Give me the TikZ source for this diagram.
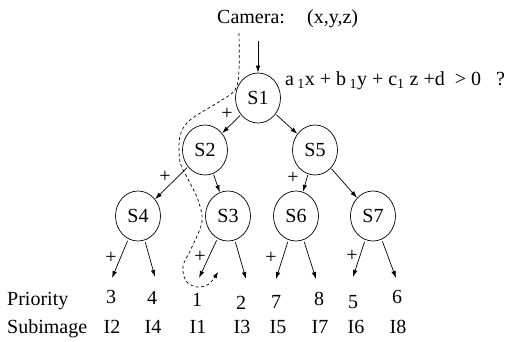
\documentclass[tikz,border=0pt]{standalone}
\usepackage{fontspec}
\setmainfont{Liberation Serif}
\usetikzlibrary{shapes.geometric,arrows.meta}
\begin{document}
\begin{tikzpicture}[x=1pt,y=-1pt,
  every node/.style={font=\fontsize{20}{24}\selectfont},
  snode/.style={draw,ellipse,line width=0.7pt,minimum width=45pt,minimum height=50pt,inner sep=0pt},
  edge/.style={line width=0.7pt,-{Latex[length=7pt,width=4.5pt]},shorten <=1pt},
  plus/.style={inner sep=0pt,anchor=center},
  lbl/.style={inner sep=0pt,anchor=base},
  lblw/.style={inner sep=0pt,anchor=base west},
  dashpath/.style={line width=0.7pt,dash pattern=on 3pt off 2.5pt,-{Latex[length=6pt,width=4.5pt]}}]
\useasboundingbox (0,0) rectangle (509,341);

% texts
\node[lblw] (cam) at (217,23) {Camera:};
\node[lblw] (xyz) at (307,23) {(x,y,z)};
\node[lblw] (eq) at (285,85) {a\,\textsubscript{1}x + b\,\textsubscript{1}y + c\textsubscript{1} z +d \ > 0 \ \ ?};

% tree nodes
\node[snode] (S1) at (258,98) {S1};
\node[snode] (S2) at (205,150) {S2};
\node[snode] (S5) at (315,150) {S5};
\node[snode] (S4) at (138,216) {S4};
\node[snode] (S3) at (228,216) {S3};
\node[snode] (S6) at (296,216) {S6};
\node[snode] (S7) at (373,216) {S7};

% camera arrow
\coordinate (camtop) at (258,40);
\draw[edge] (camtop) -- (S1.north);

% internal edges
\draw[edge] (S1) -- (S2);
\draw[edge] (S1) -- (S5);
\draw[edge] (S2) -- (S4);
\draw[edge] (S2) -- (S3);
\draw[edge] (S5) -- (S6);
\draw[edge] (S5) -- (S7);

% leaf arrow ends
\coordinate (l1) at (112,278);
\coordinate (l2) at (155,277);
\coordinate (l3) at (199,278);
\coordinate (l4) at (246,279);
\coordinate (l5) at (276,279);
\coordinate (l6) at (316,279);
\coordinate (l7) at (353,277);
\coordinate (l8) at (396,278);
\draw[edge,shorten <=2pt] (S4) -- (l1);
\draw[edge,shorten <=2pt] (S4) -- (l2);
\draw[edge,shorten <=2pt] (S3) -- (l3);
\draw[edge,shorten <=2pt] (S3) -- (l4);
\draw[edge,shorten <=2pt] (S6) -- (l5);
\draw[edge,shorten <=2pt] (S6) -- (l6);
\draw[edge,shorten <=2pt] (S7) -- (l7);
\draw[edge,shorten <=2pt] (S7) -- (l8);

% plus signs
\node[plus] (p1) at (227,114) {+};
\node[plus] (p2) at (165,177) {+};
\node[plus] (p3) at (293,178) {+};
\node[plus] (p4) at (111,258) {+};
\node[plus] (p5) at (200,257) {+};
\node[plus] (p6) at (271,258) {+};
\node[plus] (p7) at (352,256) {+};

% priority row
\node[lblw] (prio) at (7,305) {Priority};
\node[lbl] (n3) at (111,303) {3};
\node[lbl] (n4) at (152,304) {4};
\node[lbl] (n1) at (197,306) {1};
\node[lbl] (n2) at (241,309) {2};
\node[lbl] (n7) at (276,308) {7};
\node[lbl] (n8) at (319,305) {8};
\node[lbl] (n5) at (353,308) {5};
\node[lbl] (n6) at (397,303) {6};

% subimage row
\node[lblw] (sub) at (7,333) {Subimage};
\node[lbl] (i2) at (112,333) {I2};
\node[lbl] (i4) at (153,333) {I4};
\node[lbl] (i1) at (198,333) {I1};
\node[lbl] (i3) at (242,333) {I3};
\node[lbl] (i5) at (278,333) {I5};
\node[lbl] (i7) at (320,333) {I7};
\node[lbl] (i6) at (356,333) {I6};
\node[lbl] (i8) at (398,333) {I8};

% dashed traversal path
\draw[dashpath] plot[smooth,tension=0.55] coordinates {(239,33) (239,70) (235,90) (217,103) (190,120) (180,136) (180,162) (188,179) (198,200) (202,222) (191,249) (183,266) (186,281) (197,287) (209,284) (218,272)};
\end{tikzpicture}
\end{document}
